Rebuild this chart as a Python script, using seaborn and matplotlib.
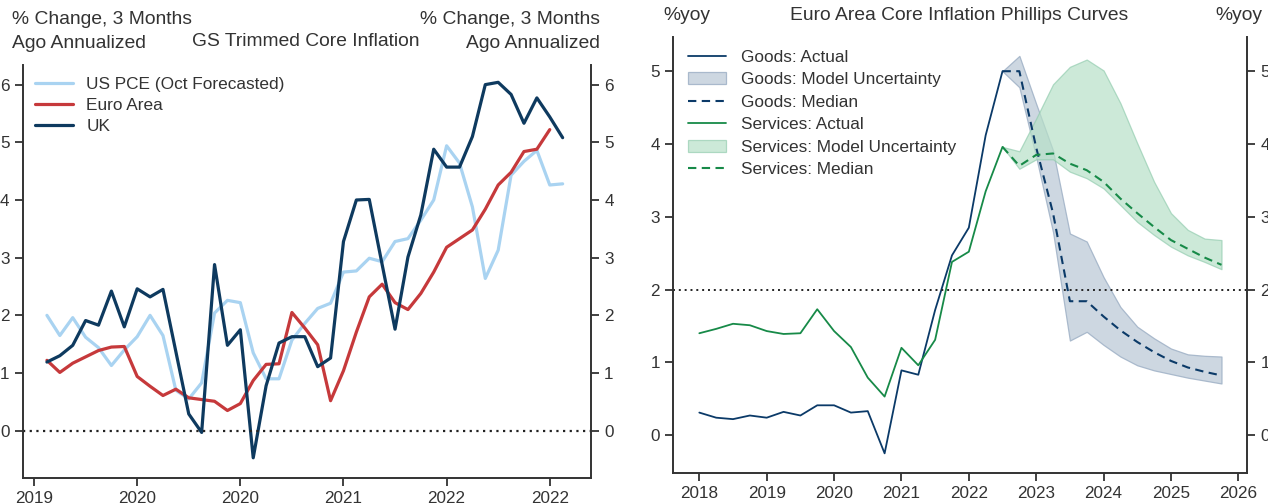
import numpy as np
import pandas as pd
import matplotlib
matplotlib.use("Agg")
import matplotlib.pyplot as plt
import seaborn as sns

# ---------------- Left panel data ----------------
left_tick_pos = [0, 8, 16, 24, 32, 40]
left_tick_labels = ["2019", "2020", "2020", "2021", "2022", "2022"]
us_pce = [2.00, 1.65, 1.96, 1.62, 1.44, 1.13, 1.40, 1.63, 2.00, 1.65, 0.70, 0.55, 0.83,
          2.04, 2.26, 2.22, 1.35, 0.90, 0.90, 1.57, 1.86, 2.12, 2.21, 2.75, 2.77, 2.99,
          2.93, 3.28, 3.33, 3.65, 4.00, 4.94, 4.64, 3.88, 2.64, 3.13, 4.43, 4.67, 4.86,
          4.26, 4.28]
euro_area = [1.22, 1.01, 1.17, 1.28, 1.39, 1.45, 1.46, 0.94, 0.77, 0.61, 0.72, 0.57, 0.54,
             0.51, 0.35, 0.47, 0.87, 1.15, 1.16, 2.05, 1.78, 1.49, 0.52, 1.04, 1.71, 2.32,
             2.54, 2.22, 2.10, 2.38, 2.75, 3.18, 3.33, 3.48, 3.84, 4.26, 4.48, 4.84, 4.88,
             5.22]
uk = [1.19, 1.30, 1.48, 1.91, 1.83, 2.42, 1.80, 2.46, 2.32, 2.45, 1.37, 0.29, -0.03,
      2.88, 1.48, 1.75, -0.47, 0.78, 1.52, 1.63, 1.63, 1.11, 1.26, 3.28, 4.00, 4.01,
      2.88, 1.76, 3.01, 3.74, 4.88, 4.57, 4.57, 5.10, 6.00, 6.04, 5.83, 5.33, 5.77,
      5.44, 5.08]

# ---------------- Right panel data ----------------
actual_quarters = pd.period_range("2018Q1", "2022Q3", freq="Q")
forecast_quarters = pd.period_range("2022Q3", "2025Q4", freq="Q")
goods_actual = [0.31, 0.24, 0.22, 0.27, 0.24, 0.32, 0.27, 0.41, 0.41, 0.31, 0.33, -0.25,
                0.89, 0.83, 1.72, 2.47, 2.85, 4.12, 5.00]
services_actual = [1.40, 1.46, 1.53, 1.51, 1.43, 1.39, 1.40, 1.73, 1.43, 1.21, 0.79, 0.53,
                   1.20, 0.96, 1.31, 2.38, 2.52, 3.35, 3.96]
goods_median = [5.00, 5.00, 3.95, 3.05, 1.84, 1.84, 1.63, 1.44, 1.28, 1.14, 1.02, 0.93, 0.87, 0.82]
goods_lo = [5.00, 4.78, 3.82, 2.79, 1.30, 1.42, 1.24, 1.08, 0.96, 0.89, 0.84, 0.79, 0.75, 0.71]
goods_hi = [5.00, 5.21, 4.55, 3.91, 2.77, 2.66, 2.17, 1.76, 1.49, 1.33, 1.19, 1.11, 1.09, 1.08]
services_median = [3.96, 3.70, 3.85, 3.87, 3.73, 3.64, 3.48, 3.25, 3.05, 2.86, 2.68, 2.56, 2.44, 2.34]
services_lo = [3.96, 3.66, 3.79, 3.79, 3.62, 3.53, 3.39, 3.16, 2.93, 2.75, 2.59, 2.47, 2.38, 2.28]
services_hi = [3.96, 3.90, 4.35, 4.82, 5.06, 5.16, 5.01, 4.56, 4.01, 3.48, 3.05, 2.82, 2.70, 2.68]
right_years = list(range(2018, 2027))


def frac_year(periods):
    return np.array([p.year + (p.quarter - 1) / 4 for p in periods])


# ---------------- Style ----------------
sns.set_style("ticks")
plt.rcParams["font.family"] = ["Liberation Sans", "DejaVu Sans"]
TXT = "#333333"
plt.rcParams.update({
    "axes.edgecolor": TXT, "xtick.color": TXT, "ytick.color": TXT,
    "axes.linewidth": 1.4, "xtick.major.width": 1.3, "ytick.major.width": 1.3,
    "xtick.major.size": 6, "ytick.major.size": 6,
    "xtick.labelsize": 12.3, "ytick.labelsize": 12.3,
    "xtick.labelcolor": TXT, "ytick.labelcolor": TXT,
})

fig = plt.figure(figsize=(12.68, 5.04), dpi=100)

# ---------------- Left panel ----------------
axL = fig.add_axes([0.0179, 0.0516, 0.4482, 0.8194])
c_us, c_eu, c_uk = "#a9d3f1", "#c6393b", "#0e3a5f"
dfL = pd.DataFrame({"x": np.arange(1, len(uk) + 1), "US": us_pce, "UK": uk})
dfE = pd.DataFrame({"x": np.arange(1, len(euro_area) + 1), "EA": euro_area})
sns.lineplot(data=dfL, x="x", y="US", ax=axL, color=c_us, lw=2.3, label="US PCE (Oct Forecasted)")
sns.lineplot(data=dfE, x="x", y="EA", ax=axL, color=c_eu, lw=2.3, label="Euro Area")
sns.lineplot(data=dfL, x="x", y="UK", ax=axL, color=c_uk, lw=2.3, label="UK")
axL.axhline(0, color="#222222", lw=1.6, ls=(0, (1, 2.0)))
axL.set_xlim(-0.88, 43.2)
axL.set_ylim(-0.82, 6.34)
axL.set_xticks(left_tick_pos)
axL.set_xticklabels(left_tick_labels)
axL.set_yticks(range(0, 7))
axL.tick_params(axis="y", left=True, right=True, labelleft=True, labelright=True)
axL.spines["top"].set_visible(False)
axL.set_xlabel("")
axL.set_ylabel("")
axL.legend(loc="upper left", bbox_to_anchor=(0.0, 1.0), frameon=False, fontsize=12.4,
           handlelength=2.2, handletextpad=0.8, labelspacing=0.33, borderaxespad=0.3,
           labelcolor=TXT)

fig.text(12 / 1268, 1 - 11 / 504, "% Change, 3 Months\nAgo Annualized", ha="left", va="top",
         fontsize=13.9, color=TXT, linespacing=1.52)
fig.text(600 / 1268, 1 - 11 / 504, "% Change, 3 Months\nAgo Annualized", ha="right", va="top",
         fontsize=13.9, color=TXT, linespacing=1.52, multialignment="right")
fig.text(306 / 1268, 1 - 42 / 504, "GS Trimmed Core Inflation", ha="center", va="center",
         fontsize=13.9, color=TXT)

# ---------------- Right panel ----------------
axR = fig.add_axes([0.5308, 0.0615, 0.4527, 0.8651])
c_g, c_s = "#0b3a68", "#178a48"
xa = frac_year(actual_quarters)
xf = frac_year(forecast_quarters)
dfA = pd.DataFrame({"x": xa, "goods": goods_actual, "services": services_actual})
dfF = pd.DataFrame({"x": xf, "gm": goods_median, "sm": services_median})

sns.lineplot(data=dfA, x="x", y="goods", ax=axR, color=c_g, lw=1.3, label="Goods: Actual")
axR.fill_between(xf, goods_lo, goods_hi, facecolor="#c5d0dc", edgecolor="#9fb1c6",
                 lw=0.9, alpha=0.85, label="Goods: Model Uncertainty", zorder=1)
sns.lineplot(data=dfF, x="x", y="gm", ax=axR, color=c_g, lw=1.5, ls=(0, (4, 2.6)),
             label="Goods: Median")
sns.lineplot(data=dfA, x="x", y="services", ax=axR, color=c_s, lw=1.3, label="Services: Actual")
axR.fill_between(xf, services_lo, services_hi, facecolor="#b7e0c8", edgecolor="#94cdb0",
                 lw=0.9, alpha=0.7, label="Services: Model Uncertainty", zorder=1)
sns.lineplot(data=dfF, x="x", y="sm", ax=axR, color=c_s, lw=1.5, ls=(0, (4, 2.6)),
             label="Services: Median")
axR.axhline(2, color="#222222", lw=1.4, ls=(0, (1, 2.0)))
axR.set_xlim(2017.61, 2026.13)
axR.set_ylim(-0.52, 5.47)
axR.set_xticks(right_years)
axR.set_xticklabels([str(y) for y in right_years])
axR.set_yticks(range(0, 6))
axR.tick_params(axis="y", left=True, right=True, labelleft=True, labelright=True)
axR.spines["top"].set_visible(False)
axR.set_xlabel("")
axR.set_ylabel("")

order = ["Goods: Actual", "Goods: Model Uncertainty", "Goods: Median",
         "Services: Actual", "Services: Model Uncertainty", "Services: Median"]
h, l = axR.get_legend_handles_labels()
hd = dict(zip(l, h))
axR.legend([hd[k] for k in order], order, loc="upper left", bbox_to_anchor=(0.004, 1.0),
           frameon=False, fontsize=12.4, handlelength=2.2, handletextpad=0.85,
           labelspacing=0.43, borderaxespad=0.35, labelcolor=TXT)

fig.text(663 / 1268, 1 - 15 / 504, "%yoy", ha="left", va="center", fontsize=13.9, color=TXT)
fig.text(959 / 1268, 1 - 15 / 504, "Euro Area Core Inflation Phillips Curves", ha="center",
         va="center", fontsize=13.9, color=TXT)
fig.text(1262 / 1268, 1 - 15 / 504, "%yoy", ha="right", va="center", fontsize=13.9, color=TXT)

fig.savefig("out.png", dpi=100)
